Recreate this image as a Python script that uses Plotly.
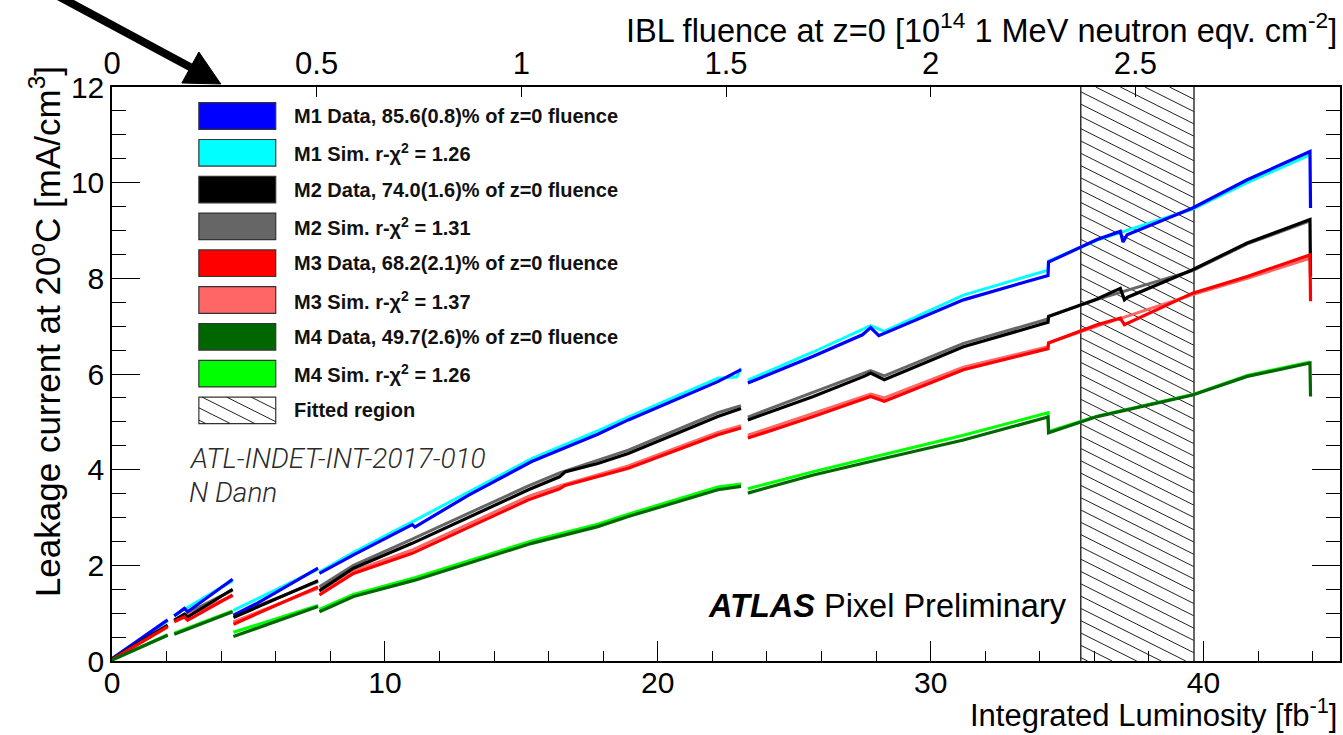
import plotly.graph_objects as go

# ---------------- data ----------------
# Each series is a list of segments; each segment is a list of (luminosity [fb^-1], current [mA/cm3]).
M1_DATA = [
    [(0.0, 0.05), (1.0, 0.44), (2.04, 0.86)],
    [(2.28, 0.94), (2.65, 1.10), (2.77, 1.03), (4.42, 1.71)],
    [(4.45, 0.96), (5.33, 1.21), (7.55, 1.94)],
    [(7.6, 1.83), (8.85, 2.22), (11.0, 2.85), (11.1, 2.80), (13.07, 3.47), (15.38, 4.17),
     (17.8, 4.74), (18.92, 5.04), (22.2, 5.84), (23.05, 6.09)],
    [(23.3, 5.81), (25.7, 6.37), (27.5, 6.82), (27.8, 6.97), (28.1, 6.80), (31.2, 7.55), (34.3, 8.06),
     (34.32, 8.34), (36.1, 8.81), (36.95, 8.98), (37.05, 8.76), (37.2, 8.91), (39.6, 9.47),
     (41.6, 10.06), (43.9, 10.65), (43.92, 9.47)],
]
M1_SIM = [
    [(0.0, 0.05), (2.04, 0.84)],
    [(2.28, 0.95), (4.42, 1.68)],
    [(4.45, 1.06), (7.55, 1.92)],
    [(7.6, 1.86), (8.85, 2.27), (11.0, 2.91), (13.07, 3.53), (15.38, 4.23), (17.8, 4.81),
     (18.92, 5.10), (22.2, 5.91), (22.9, 5.94), (23.05, 6.12)],
    [(23.3, 5.87), (25.7, 6.46), (27.8, 7.01), (28.3, 6.89), (31.2, 7.65), (34.3, 8.17),
     (34.32, 8.36), (36.1, 8.80), (39.6, 9.45), (41.6, 10.0), (43.9, 10.58)],
]
M2_DATA = [
    [(0.0, 0.04), (2.04, 0.75)],
    [(2.28, 0.85), (2.65, 0.98), (2.77, 0.92), (4.42, 1.50)],
    [(4.45, 0.91), (7.55, 1.68)],
    [(7.6, 1.47), (8.85, 1.94), (11.0, 2.46), (15.26, 3.58), (16.4, 3.85), (16.6, 3.95),
     (17.8, 4.13), (18.92, 4.34), (22.2, 5.11), (23.05, 5.28)],
    [(23.3, 5.04), (25.7, 5.53), (27.6, 5.96), (27.8, 6.02), (28.3, 5.88), (31.2, 6.57), (34.3, 7.08),
     (34.32, 7.20), (36.1, 7.57), (36.95, 7.79), (37.1, 7.55), (37.2, 7.60), (39.6, 8.18),
     (41.6, 8.74), (43.9, 9.23), (43.92, 8.04)],
]
M2_SIM = [
    [(0.0, 0.04), (2.04, 0.74)],
    [(2.28, 0.86), (4.42, 1.48)],
    [(4.45, 0.95), (7.55, 1.66)],
    [(7.6, 1.55), (8.85, 2.00), (11.0, 2.55), (15.26, 3.66), (16.4, 3.93), (17.8, 4.20),
     (18.92, 4.41), (22.2, 5.19), (23.05, 5.34)],
    [(23.3, 5.10), (25.7, 5.61), (27.8, 6.07), (28.3, 5.96), (31.2, 6.64), (34.3, 7.15),
     (34.32, 7.21), (36.1, 7.56), (39.6, 8.16), (41.6, 8.72), (43.9, 9.20)],
]
M3_DATA = [
    [(0.0, 0.03), (2.04, 0.72)],
    [(2.28, 0.82), (2.65, 0.92), (2.77, 0.85), (4.42, 1.38)],
    [(4.45, 0.77), (7.55, 1.55)],
    [(7.6, 1.38), (8.85, 1.83), (11.0, 2.25), (15.26, 3.37), (16.4, 3.60), (16.6, 3.67),
     (18.92, 4.03), (22.2, 4.73), (23.05, 4.87)],
    [(23.3, 4.66), (25.7, 5.11), (27.8, 5.53), (28.3, 5.43), (31.2, 6.09), (34.3, 6.53),
     (34.32, 6.65), (36.1, 7.03), (36.95, 7.17), (37.1, 7.03), (39.6, 7.69), (41.6, 8.04),
     (43.9, 8.49), (43.92, 7.52)],
]
M3_SIM = [
    [(0.0, 0.03), (2.04, 0.71)],
    [(2.28, 0.84), (4.42, 1.36)],
    [(4.45, 0.82), (7.55, 1.52)],
    [(7.6, 1.45), (8.85, 1.88), (11.0, 2.32), (15.26, 3.44), (16.4, 3.66), (18.92, 4.08),
     (22.2, 4.78), (23.05, 4.92)],
    [(23.3, 4.72), (25.7, 5.17), (27.8, 5.58), (28.3, 5.50), (31.2, 6.14), (34.3, 6.57),
     (34.32, 6.65), (36.1, 7.00), (39.6, 7.66), (41.6, 8.00), (43.9, 8.42)],
]
M4_DATA = [
    [(0.0, 0.02), (2.04, 0.54)],
    [(2.28, 0.56), (4.42, 1.03)],
    [(4.45, 0.51), (7.55, 1.14)],
    [(7.6, 1.03), (8.85, 1.35), (11.1, 1.69), (15.38, 2.46), (17.8, 2.81), (18.92, 3.02),
     (22.2, 3.58), (23.05, 3.65)],
    [(23.3, 3.51), (25.7, 3.89), (27.8, 4.17), (31.2, 4.62), (34.3, 5.10),
     (34.32, 4.77), (36.1, 5.11), (36.95, 5.22), (39.6, 5.56), (41.6, 5.95), (43.9, 6.23), (43.92, 5.53)],
]
M4_SIM = [
    [(0.0, 0.02), (2.04, 0.55)],
    [(2.28, 0.58), (4.42, 1.05)],
    [(4.45, 0.60), (7.55, 1.16)],
    [(7.6, 1.08), (8.85, 1.39), (11.1, 1.74), (15.38, 2.51), (17.8, 2.86), (18.92, 3.07),
     (22.2, 3.64), (23.05, 3.70)],
    [(23.3, 3.60), (25.7, 3.96), (27.8, 4.25), (31.2, 4.72), (34.3, 5.19),
     (34.32, 4.80), (36.1, 5.12), (39.6, 5.57), (41.6, 5.97), (43.9, 6.25)],
]

LEGEND_LABELS = [
    "M1 Data, 85.6(0.8)% of z=0 fluence",
    "M1 Sim. r-χ<sup>2</sup> = 1.26",
    "M2 Data, 74.0(1.6)% of z=0 fluence",
    "M2 Sim. r-χ<sup>2</sup> = 1.31",
    "M3 Data, 68.2(2.1)% of z=0 fluence",
    "M3 Sim. r-χ<sup>2</sup> = 1.37",
    "M4 Data, 49.7(2.6)% of z=0 fluence",
    "M4 Sim. r-χ<sup>2</sup> = 1.26",
    "Fitted region",
]
FIT_REGION = (35.5, 39.65)         # fitted luminosity range [fb^-1]
LUMI_RANGE = (0, 45)
CURRENT_RANGE = (0, 12)
FLUENCE_PER_LUMI = 1 / 15.0        # 10^14 neq/cm2 per fb^-1 (top axis)
FLUENCE_TICKS = [0, 0.5, 1, 1.5, 2, 2.5]
FLUENCE_TICK_LABELS = ["0", "0.5", "1", "1.5", "2", "2.5"]

# ---------------- styles ----------------
DATA_COLORS = ["#0000ff", "#000000", "#ff0000", "#006600"]
SIM_COLORS = ["#00ffff", "#666666", "#ff6666", "#00ff00"]
FONT = "Liberation Sans, Arial, Helvetica, sans-serif"

W, H = 1343, 735
ML, MR, MT, MB = 112, 1, 87, 74
PW, PH = W - ML - MR, H - MT - MB


def px2paper(px, py):
    return (px - ML) / PW, (H - MB - py) / PH


def flatten(segments):
    xs, ys = [], []
    for seg in segments:
        for x, y in seg:
            xs.append(x)
            ys.append(y)
        xs.append(None)
        ys.append(None)
    return xs, ys


fig = go.Figure()

for sim, col in zip([M1_SIM, M2_SIM, M3_SIM, M4_SIM], SIM_COLORS):
    xs, ys = flatten(sim)
    fig.add_trace(go.Scatter(x=xs, y=ys, mode="lines", line=dict(color=col, width=3),
                             showlegend=False, hoverinfo="skip"))
for dat, col in zip([M1_DATA, M2_DATA, M3_DATA, M4_DATA], DATA_COLORS):
    xs, ys = flatten(dat)
    fig.add_trace(go.Scatter(x=xs, y=ys, mode="lines", line=dict(color=col, width=3.2),
                             showlegend=False, hoverinfo="skip"))

# invisible trace to activate the top (fluence) axis
fig.add_trace(go.Scatter(x=[LUMI_RANGE[0] * FLUENCE_PER_LUMI, LUMI_RANGE[1] * FLUENCE_PER_LUMI],
                         y=[0, 0], xaxis="x2", mode="markers", marker=dict(opacity=0),
                         showlegend=False, hoverinfo="skip"))

shapes = []

# ---- fitted region (hatched) ----
x0, x1 = FIT_REGION
px_per_x = PW / (LUMI_RANGE[1] - LUMI_RANGE[0])
wp = (x1 - x0) * px_per_x
slope = 0.5
spacing = 12.3
c = -slope * wp
while c < PH:
    u0 = max(0.0, -c / slope)
    u1 = min(wp, (PH - c) / slope)
    if u1 > u0:
        shapes.append(dict(type="line", xref="x", yref="paper",
                           x0=x0 + u0 / px_per_x, y0=1 - (c + slope * u0) / PH,
                           x1=x0 + u1 / px_per_x, y1=1 - (c + slope * u1) / PH,
                           line=dict(color="#222222", width=1), layer="below"))
    c += spacing
for xv in FIT_REGION:
    shapes.append(dict(type="line", xref="x", yref="paper", x0=xv, x1=xv, y0=0, y1=1,
                       line=dict(color="#333333", width=1.5), layer="below"))

# ---- manual legend ----
annotations = []
box_l, box_r, box_h = 199, 276, 26.6
row0, row_step = 102.7, 36.8
legend_fill = [DATA_COLORS[0], SIM_COLORS[0], DATA_COLORS[1], SIM_COLORS[1],
               DATA_COLORS[2], SIM_COLORS[2], DATA_COLORS[3], SIM_COLORS[3], "white"]
for i, (lab, fc) in enumerate(zip(LEGEND_LABELS, legend_fill)):
    top = row0 + i * row_step
    bx0, by0 = px2paper(box_l, top + box_h)
    bx1, by1 = px2paper(box_r, top)
    shapes.append(dict(type="rect", xref="paper", yref="paper", x0=bx0, x1=bx1, y0=by0, y1=by1,
                       fillcolor=fc, line=dict(color="#333333", width=1.2)))
    if i == len(LEGEND_LABELS) - 1:
        bw = box_r - box_l
        cc = -slope * bw
        while cc < box_h:
            u0 = max(0.0, -cc / slope)
            u1 = min(bw, (box_h - cc) / slope)
            if u1 > u0:
                ax0, ay0 = px2paper(box_l + u0, top + cc + slope * u0)
                ax1, ay1 = px2paper(box_l + u1, top + cc + slope * u1)
                shapes.append(dict(type="line", xref="paper", yref="paper", x0=ax0, y0=ay0,
                                   x1=ax1, y1=ay1, line=dict(color="#222222", width=1)))
            cc += 12.3
    tx, ty = px2paper(292.7, top + box_h / 2)
    annotations.append(dict(x=tx, y=ty, xref="paper", yref="paper", xanchor="left", yanchor="middle",
                            text="<b>" + lab + "</b>", showarrow=False,
                            font=dict(family=FONT, size=20, color="#111111")))

# ---- arrow in the top-left corner ----
sx, sy = px2paper(43, -12)
ex, ey = px2paper(192, 68)
shapes.append(dict(type="line", xref="paper", yref="paper", x0=sx, y0=sy, x1=ex, y1=ey,
                   line=dict(color="black", width=8)))
t1 = px2paper(221, 84)
t2 = px2paper(182, 83)
t3 = px2paper(199, 52)
shapes.append(dict(type="path", xref="paper", yref="paper",
                   path=f"M {t1[0]},{t1[1]} L {t2[0]},{t2[1]} L {t3[0]},{t3[1]} Z",
                   fillcolor="black", line=dict(color="black", width=1)))

# ---- texts ----
ax_, ay_ = px2paper(187, 458)
annotations.append(dict(x=ax_, y=ay_, xref="paper", yref="paper", xanchor="left", yanchor="middle",
                        text="<i>ATL-INDET-INT-2017-010</i>", showarrow=False,
                        font=dict(family="Roboto, " + FONT, size=28, color="#2a2a2a", weight=300)))
ax_, ay_ = px2paper(187, 492)
annotations.append(dict(x=ax_, y=ay_, xref="paper", yref="paper", xanchor="left", yanchor="middle",
                        text="<i>N Dann</i>", showarrow=False,
                        font=dict(family="Roboto, " + FONT, size=28, color="#2a2a2a", weight=300)))
ax_, ay_ = px2paper(1071, 606)
annotations.append(dict(x=ax_, y=ay_, xref="paper", yref="paper", xanchor="right", yanchor="middle",
                        text="<b><i>ATLAS</i></b> Pixel Preliminary", showarrow=False,
                        font=dict(family=FONT, size=32.5, color="black")))
ax_, ay_ = px2paper(45, 332)
annotations.append(dict(x=ax_, y=ay_, xref="paper", yref="paper", xanchor="center", yanchor="middle",
                        text="Leakage current at 20<sup>o</sup>C [mA/cm<sup>3</sup>]", textangle=-90,
                        showarrow=False, font=dict(family=FONT, size=35, color="black")))
ax_, ay_ = px2paper(1341, 713)
annotations.append(dict(x=ax_, y=ay_, xref="paper", yref="paper", xanchor="right", yanchor="middle",
                        text="Integrated Luminosity [fb<sup>-1</sup>]", showarrow=False,
                        font=dict(family=FONT, size=31, color="black")))
ax_, ay_ = px2paper(1341, 28)
annotations.append(dict(x=ax_, y=ay_, xref="paper", yref="paper", xanchor="right", yanchor="middle",
                        text="IBL fluence at z=0 [10<sup>14</sup> 1 MeV neutron eqv. cm<sup>-2</sup>]",
                        showarrow=False, font=dict(family=FONT, size=32.5, color="black")))

tickfont = dict(family=FONT, size=30, color="black")
fig.update_layout(
    width=W, height=H,
    margin=dict(l=ML, r=MR, t=MT, b=MB),
    paper_bgcolor="white", plot_bgcolor="white",
    showlegend=False,
    shapes=shapes, annotations=annotations,
    xaxis=dict(range=list(LUMI_RANGE), tick0=0, dtick=10, ticks="inside", ticklen=20, tickwidth=1.3,
               tickcolor="black", showgrid=False, zeroline=False, showline=True, linecolor="black",
               linewidth=1.5, mirror=True, tickfont=tickfont, ticklabelstandoff=-6,
               minor=dict(dtick=2, ticks="inside", ticklen=10, tickwidth=1.3, tickcolor="black",
                          showgrid=False)),
    xaxis2=dict(range=[LUMI_RANGE[0] * FLUENCE_PER_LUMI, LUMI_RANGE[1] * FLUENCE_PER_LUMI],
                overlaying="x", side="top", anchor="y", tickvals=FLUENCE_TICKS,
                ticktext=FLUENCE_TICK_LABELS, ticks="inside", ticklen=10, tickwidth=1.3,
                tickcolor="black", showgrid=False, zeroline=False, showline=False,
                ticklabelstandoff=6,
                tickfont=dict(family=FONT, size=31, color="black")),
    yaxis=dict(range=list(CURRENT_RANGE), tick0=0, dtick=2, ticks="inside", ticklen=28, tickwidth=1.3,
               tickcolor="black", showgrid=False, zeroline=False, showline=True, linecolor="black",
               linewidth=1.5, mirror="ticks", tickfont=tickfont,
               minor=dict(dtick=0.5, ticks="inside", ticklen=14, tickwidth=1.3, tickcolor="black",
                          showgrid=False)),
)

fig.write_html("out.html")
